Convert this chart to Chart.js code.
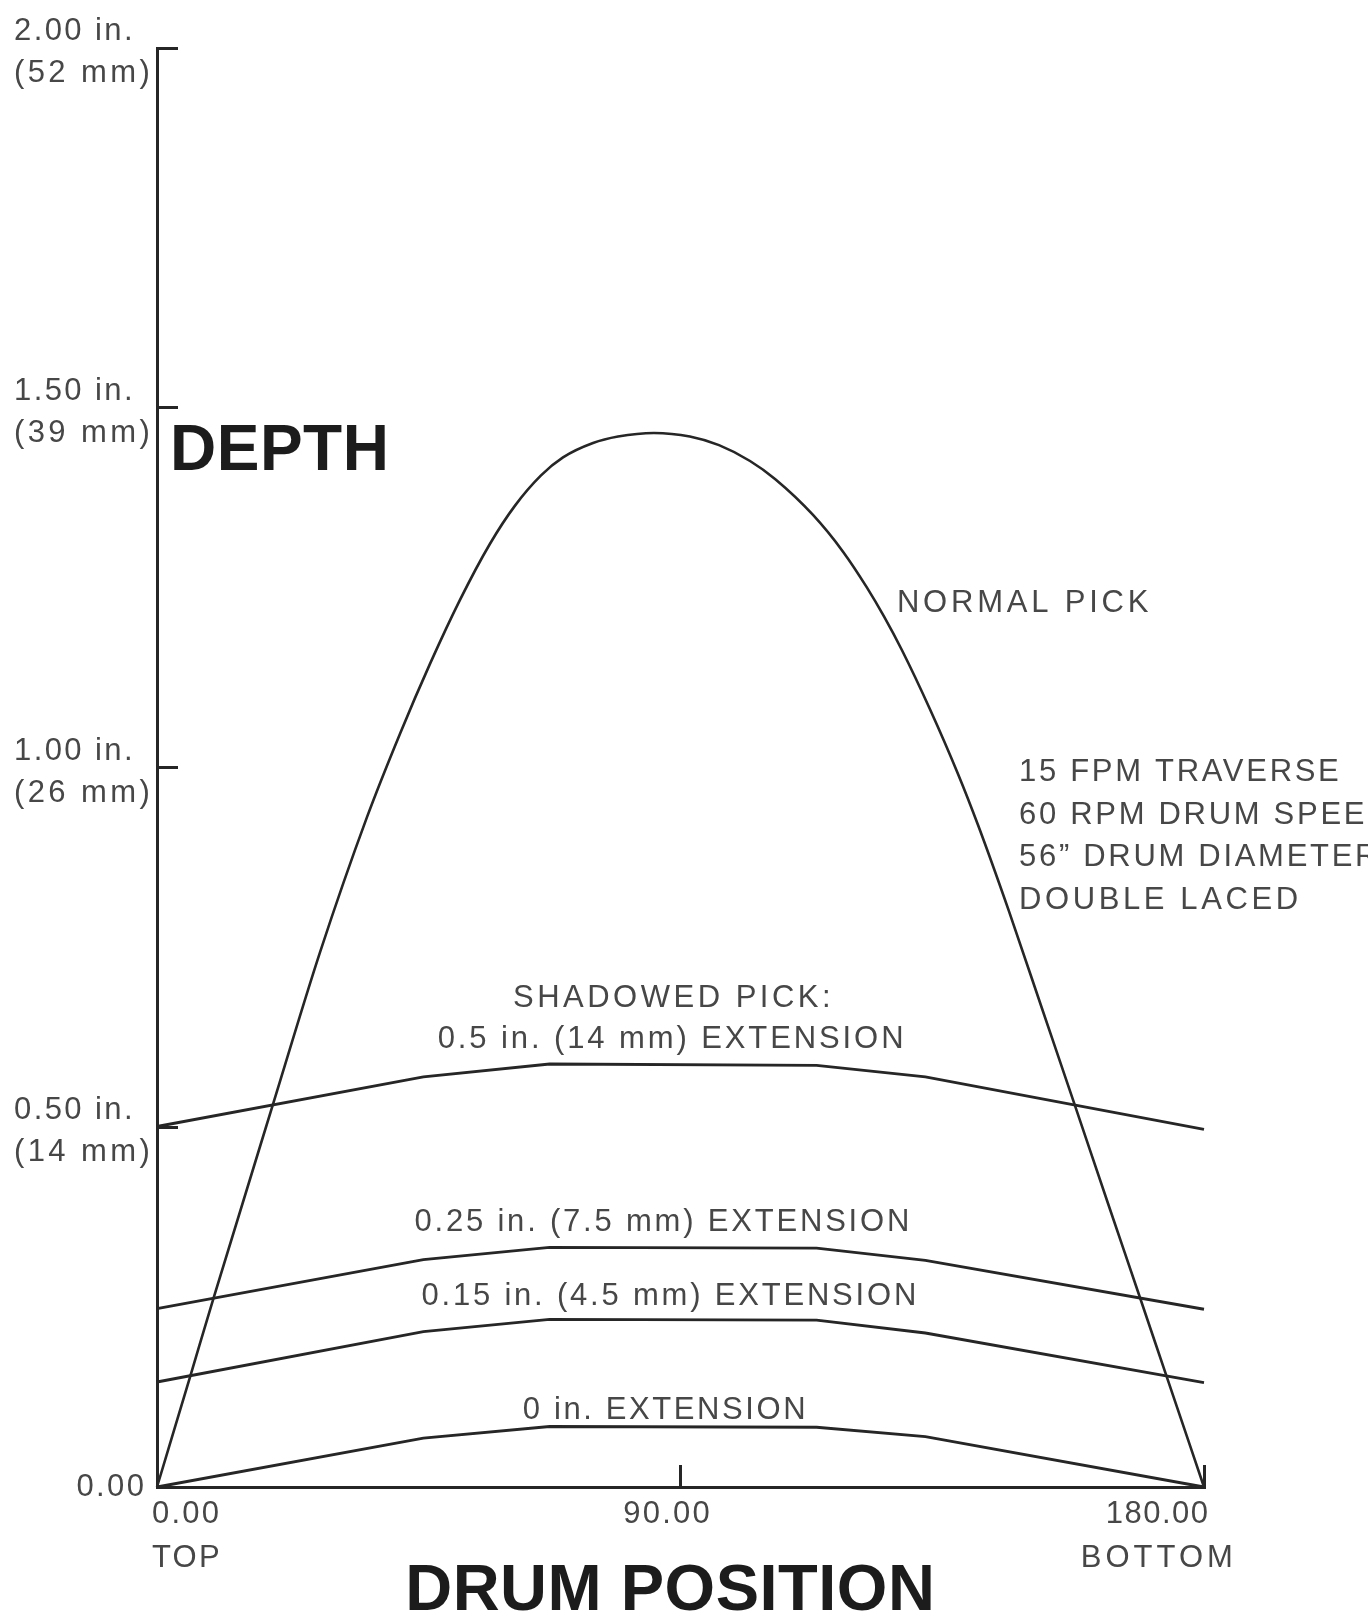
<!DOCTYPE html>
<html>
<head>
<meta charset="utf-8">
<title>Pick depth vs drum position</title>
<script src="https://cdn.jsdelivr.net/npm/chart.js@4/dist/chart.umd.min.js"></script>
<style>
  html, body { margin: 0; padding: 0; background: #ffffff; }
  #wrap { width: 1368px; height: 1616px; position: relative; }
</style>
</head>
<body>
<div id="wrap"><canvas id="depthChart"></canvas></div>
<script>
// Drum position in degrees (0 = top, 180 = bottom) and cutting depth in inches.
const normalPickAngle = [0, 5.79, 9.63, 19.91, 28.02, 36.10, 41.78, 46.93, 52.09, 57.25, 61.55, 66.02, 69.80, 74.96, 79.26, 85.44,
  91.61, 96.62, 101.95, 106.25, 112.78, 117.94, 122.06, 124.98, 128.08, 132.89, 137.71, 141.15, 146.48, 152.15, 157.82, 163.50, 169.09, 173.31, 180];
const normalPickDepth = [0, 0.156, 0.260, 0.531, 0.743, 0.931, 1.047, 1.144, 1.233, 1.311, 1.364, 1.406, 1.431, 1.451, 1.460, 1.465,
  1.460, 1.448, 1.426, 1.401, 1.351, 1.300, 1.250, 1.210, 1.163, 1.081, 0.991, 0.920, 0.800, 0.665, 0.530, 0.394, 0.261, 0.160, 0];

// Shadowed pick curves share the same break points along the drum.
const extensionAngle = [0, 45.8, 67.5, 113.4, 132.1, 180];
const depthExt050 = [0.501, 0.570, 0.588, 0.586, 0.570, 0.497];
const depthExt025 = [0.248, 0.316, 0.333, 0.332, 0.315, 0.247];
const depthExt015 = [0.146, 0.216, 0.233, 0.232, 0.214, 0.145];
const depthExt000 = [0, 0.068, 0.084, 0.083, 0.070, 0];

// Axis ticks and their labels.
const xTickValues = [0, 90, 180];
const xTickLabels = [['0.00', 'TOP'], ['90.00'], ['180.00', 'BOTTOM']];
const yTickValues = [0, 0.5, 1, 1.5, 2];
const yTickInches = ['0.00', '0.50 in.', '1.00 in.', '1.50 in.', '2.00 in.'];
const yTickMetric = ['', '(14 mm)', '(26 mm)', '(39 mm)', '(52 mm)'];

// Curve captions, placed in data coordinates.
const captions = [
  { text: 'NORMAL PICK', x: 127.2, y: 1.231, align: 'left', spacing: 3.8 },
  { text: '15 FPM TRAVERSE', x: 148.2, y: 0.997, align: 'left', spacing: 2.7 },
  { text: '60 RPM DRUM SPEED', x: 148.2, y: 0.9375, align: 'left', spacing: 2.7 },
  { text: '56\u201D DRUM DIAMETER', x: 148.2, y: 0.878, align: 'left', spacing: 2.7 },
  { text: 'DOUBLE LACED', x: 148.2, y: 0.819, align: 'left', spacing: 3.6 },
  { text: 'SHADOWED PICK:', x: 88.5, y: 0.682, align: 'center', spacing: 3.5 },
  { text: '0.5 in. (14 mm) EXTENSION', x: 88.3, y: 0.625, align: 'center', spacing: 2.9 },
  { text: '0.25 in. (7.5 mm) EXTENSION', x: 86.8, y: 0.371, align: 'center', spacing: 2.8 },
  { text: '0.15 in. (4.5 mm) EXTENSION', x: 88.0, y: 0.268, align: 'center', spacing: 2.8 },
  { text: '0 in. EXTENSION', x: 87.2, y: 0.110, align: 'center', spacing: 2.6 }
];

const INK = '#262626';
const TEXT_GREY = '#474747';
const FAMILY = '"Liberation Sans", Arial, Helvetica, sans-serif';
const LABEL_SIZE = 31;

const toPoints = (xs, ys) => xs.map((x, i) => ({ x: x, y: ys[i] }));

// Draws tracked text with its capitals centred on y; align applies to the visible glyph run.
function putText(ctx, text, x, y, size, weight, color, align, spacing) {
  ctx.save();
  ctx.font = (weight ? weight + ' ' : '') + size + 'px ' + FAMILY;
  ctx.fillStyle = color;
  ctx.textBaseline = 'alphabetic';
  ctx.textAlign = 'left';
  const ls = spacing || 0;
  let w;
  if ('letterSpacing' in ctx) {
    ctx.letterSpacing = ls + 'px';
    w = ctx.measureText(text).width - ls;
  } else {
    w = ctx.measureText(text).width;
  }
  let left = x;
  if (align === 'center') left = x - w / 2;
  else if (align === 'right') left = x - w;
  ctx.fillText(text, left, y + size * 0.716 / 2);
  ctx.restore();
  return w;
}

const labelPlugin = {
  id: 'labelPlugin',
  afterDraw(chart) {
    const ctx = chart.ctx;
    const xs = chart.scales.x;
    const ys = chart.scales.y;
    const area = chart.chartArea;

    // Y tick labels: inches above, millimetres below.
    yTickValues.forEach((v, i) => {
      const py = ys.getPixelForValue(v);
      if (yTickMetric[i]) {
        putText(ctx, yTickInches[i], 14, py - 19, LABEL_SIZE, '', TEXT_GREY, 'left', 2.4);
        putText(ctx, yTickMetric[i], 14, py + 23, LABEL_SIZE, '', TEXT_GREY, 'left', 3.4);
      } else {
        putText(ctx, yTickInches[i], area.left - 13, py - 2.5, LABEL_SIZE, '', TEXT_GREY, 'right', 2.4);
      }
    });

    // X tick labels.
    const row1 = area.bottom + 25;
    const row2 = area.bottom + 69;
    xTickValues.forEach((v, i) => {
      const px = xs.getPixelForValue(v);
      const lines = xTickLabels[i];
      if (i === 0) {
        lines.forEach((t, k) => putText(ctx, t, px - 5, k ? row2 : row1, LABEL_SIZE, '', TEXT_GREY, 'left', 2.2));
      } else if (i === xTickValues.length - 1) {
        const w = putText(ctx, lines[0], px + 4, row1, LABEL_SIZE, '', TEXT_GREY, 'right', 1.5);
        const mid = px + 4 - w / 2;
        if (lines[1]) putText(ctx, lines[1], mid, row2, LABEL_SIZE, '', TEXT_GREY, 'center', 4);
      } else {
        putText(ctx, lines[0], px - 14, row1, LABEL_SIZE, '', TEXT_GREY, 'center', 2.2);
      }
    });

    // Axis titles.
    putText(ctx, 'DEPTH', area.left + 13, ys.getPixelForValue(1.446), 64, 'bold', '#1c1c1c', 'left', 0.5);
    putText(ctx, 'DRUM POSITION', xs.getPixelForValue(88.2), area.bottom + 100, 65, 'bold', '#1c1c1c', 'center', 0.5);

    // Curve captions.
    captions.forEach(c => {
      putText(ctx, c.text, xs.getPixelForValue(c.x), ys.getPixelForValue(c.y), LABEL_SIZE, '', TEXT_GREY,
        c.align, c.spacing);
    });
  }
};

const lineStyle = {
  showLine: true,
  pointRadius: 0,
  pointHoverRadius: 0,
  borderColor: INK,
  backgroundColor: INK,
  fill: false,
  clip: false
};

new Chart(document.getElementById('depthChart'), {
  type: 'scatter',
  data: {
    datasets: [
      Object.assign({ label: 'Normal pick', data: toPoints(normalPickAngle, normalPickDepth),
        cubicInterpolationMode: 'monotone', borderWidth: 2.6 }, lineStyle),
      Object.assign({ label: 'Shadowed pick, 0.5 in. extension', data: toPoints(extensionAngle, depthExt050),
        tension: 0, borderWidth: 2.9 }, lineStyle),
      Object.assign({ label: 'Shadowed pick, 0.25 in. extension', data: toPoints(extensionAngle, depthExt025),
        tension: 0, borderWidth: 2.9 }, lineStyle),
      Object.assign({ label: 'Shadowed pick, 0.15 in. extension', data: toPoints(extensionAngle, depthExt015),
        tension: 0, borderWidth: 2.9 }, lineStyle),
      Object.assign({ label: 'Shadowed pick, 0 in. extension', data: toPoints(extensionAngle, depthExt000),
        tension: 0, borderWidth: 2.9 }, lineStyle)
    ]
  },
  options: {
    responsive: true,
    maintainAspectRatio: false,
    animation: false,
    events: [],
    layout: { padding: { top: 48, right: 164, left: 0, bottom: 0 } },
    plugins: { legend: { display: false }, tooltip: { enabled: false } },
    scales: {
      x: {
        type: 'linear',
        position: 'bottom',
        min: 0,
        max: 180,
        ticks: { display: false, stepSize: 90 },
        afterBuildTicks(scale) { scale.ticks = xTickValues.map(v => ({ value: v })); },
        grid: { display: true, drawOnChartArea: false, drawTicks: true, tickLength: -22, color: INK, lineWidth: 3 },
        border: { display: true, color: INK, width: 3 },
        afterFit(scale) { scale.height = 129; }
      },
      y: {
        type: 'linear',
        position: 'left',
        min: 0,
        max: 2,
        ticks: { display: false, stepSize: 0.5 },
        afterBuildTicks(scale) { scale.ticks = yTickValues.map(v => ({ value: v })); },
        grid: { display: true, drawOnChartArea: false, drawTicks: true, tickLength: -21, color: INK, lineWidth: 3 },
        border: { display: true, color: INK, width: 3 },
        afterFit(scale) { scale.width = 157; }
      }
    }
  },
  plugins: [labelPlugin]
});
</script>
</body>
</html>
